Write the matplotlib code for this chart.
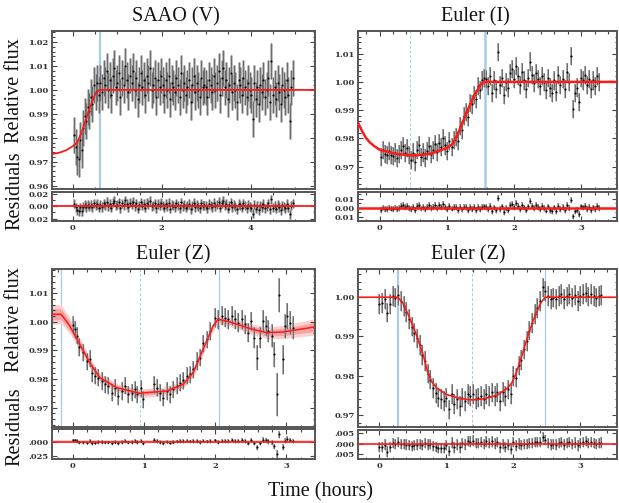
import numpy as np
import matplotlib
matplotlib.use("Agg")
import matplotlib.pyplot as plt
from matplotlib.ticker import MultipleLocator

plt.rcParams['font.family'] = ['Liberation Serif', 'DejaVu Serif']

# ---------------- SAAO (V) ----------------
saao_t = [0.02, 0.06, 0.09, 0.13, 0.16, 0.20, 0.23, 0.27, 0.30, 0.34, 0.37, 0.41, 0.44, 0.48, 0.51, 0.55, 0.58,
          0.62, 0.65, 0.69, 0.72, 0.76, 0.79, 0.83, 0.86, 0.90, 0.93, 0.97, 1.00, 1.04, 1.07, 1.11, 1.14, 1.18, 1.21,
          1.25, 1.28, 1.32, 1.35, 1.39, 1.42, 1.46, 1.49, 1.53, 1.56, 1.60, 1.63, 1.67, 1.70, 1.74, 1.77, 1.81, 1.84,
          1.88, 1.91, 1.95, 1.98,
          2.02, 2.05, 2.09, 2.12, 2.16, 2.19, 2.23, 2.26, 2.30, 2.33, 2.37, 2.40, 2.44, 2.47, 2.51, 2.54, 2.58, 2.61,
          2.65, 2.68, 2.72, 2.75, 2.79, 2.82, 2.86, 2.89, 2.93, 2.96,
          3.00, 3.03, 3.07, 3.10, 3.14, 3.17, 3.21, 3.24, 3.28, 3.31, 3.35, 3.38, 3.42, 3.45, 3.49, 3.52, 3.56, 3.59,
          3.63, 3.66, 3.70, 3.73, 3.77, 3.80, 3.84, 3.87, 3.91, 3.94, 3.98,
          4.01, 4.05, 4.08, 4.12, 4.15, 4.19, 4.22, 4.26, 4.29, 4.33, 4.36, 4.40, 4.43, 4.47, 4.50, 4.54, 4.57, 4.61,
          4.64, 4.68, 4.71, 4.75, 4.78, 4.82, 4.85, 4.89, 4.92, 4.95]
# (flux - 1) in parts per thousand
saao_ppt = [-19, -24, -28, -29, -21, -25, -16, -11, -13, -7, -9, -3, -6, 2, -1, 3, -2,
            3, -1, 5, 2, 8, 0, 4, -2, 6, 9, 1, 3, 7, -3, 5, 2, 10, 4, -1, 6, 3, 8, 0, 5, -4, 2, 7, 1, 4, -2,
            6, 3, 9, 0, 2, 5, -3, 4, 1, 6,
            2, -2, 4, 0, 6, -4, 3, 1, -1, 5, 2, -3, 7, 0, 3, -2, 1, 4, -5, 2, 6, -1, 3, 0, -3, 5, 1, 2,
            1, -3, 4, 2, -1, 6, 0, 3, 8, -2, 5, 9, 1, 4, -4, 2, 7, -1, 3, 0, -5, 4, 2, -2, 5, 1, -3, 3, 0,
            -2, -12, 3, -4, 1, -6, 2, -1, 4, -3, 0, 5, -5, 12, -2, 1, -4, 3, -1, -6, 2, 0, -3, 4, -2, -13, 1, 5]
saao_err = 0.0075
saao_model_t = [-0.47, -0.30, -0.15, 0.00, 0.10, 0.20, 0.30, 0.40, 0.50, 0.58, 0.62, 5.45]
saao_model_f = [0.9732, 0.9738, 0.9748, 0.9765, 0.9780, 0.9825, 0.9880, 0.9935, 0.9980, 0.9998, 1.0, 1.0]

# ---------------- Euler (I) ----------------
euli_t = [0.02, 0.05, 0.08, 0.11, 0.14, 0.17, 0.20, 0.23, 0.26, 0.29, 0.32, 0.35, 0.38, 0.41, 0.44, 0.47, 0.50,
          0.53, 0.56, 0.59, 0.62, 0.65, 0.68, 0.71, 0.74, 0.77, 0.80, 0.83, 0.86, 0.89, 0.92, 0.95, 0.98,
          1.01, 1.04, 1.07, 1.10, 1.13, 1.16, 1.19, 1.22, 1.25, 1.28, 1.31, 1.34, 1.37, 1.40, 1.43, 1.46, 1.49,
          1.52, 1.55,
          1.58, 1.61, 1.64, 1.67, 1.70, 1.73, 1.76, 1.79, 1.82, 1.85, 1.88, 1.91, 1.94, 1.97,
          2.00, 2.03, 2.06, 2.09, 2.12, 2.15, 2.18, 2.21, 2.24, 2.27, 2.30, 2.33, 2.36, 2.39, 2.42, 2.45, 2.48,
          2.51, 2.54, 2.57, 2.60, 2.63, 2.66, 2.69, 2.72, 2.75, 2.78, 2.81, 2.84, 2.87, 2.90, 2.93, 2.96, 2.99,
          3.02, 3.05, 3.08, 3.11, 3.14, 3.17, 3.20, 3.23, 3.26]
euli_ppt = [-26.5, -24.0, -25.5, -26.0, -24.5, -25.8, -26.3, -25.0, -27.0, -25.5, -24.0, -22.8, -25.2, -23.5,
            -26.0, -27.5, -25.0, -28.5, -24.0, -22.5, -26.5, -25.0, -27.0, -24.5, -22.8, -25.5, -24.0, -22.0,
            -24.8, -21.5, -23.0, -19.8, -22.5,
            -24.5, -21.0, -23.0, -20.5, -19.5, -21.0, -15.5, -17.0, -12.0, -10.5, -12.5, -7.5, -8.0, -4.5, -6.0,
            -1.5, -3.0, 0.5, 1.5,
            1.0, -1.5, 2.0, -4.0, 0.5, -2.5, 10.7, -1.0, 1.5, -4.5, 0.0, -2.0, 3.0, 4.5,
            1.0, 5.5, 2.0, -1.0, 3.5, 0.5, -2.5, 1.5, 7.2, 2.5, -0.5, 3.0, 1.0, -1.5, 2.0, 0.0, -3.0, 1.5, -2.0,
            -4.0, 0.5, -3.5, 2.5, -1.0, 1.0, -2.5, 3.5, 0.0, 9.0, -9.5, -4.0, -2.0, -7.1, 1.5,
            0.5, 2.5, -1.0, 1.0, -2.5, 0.5, -1.5, 2.0, 0.0]
euli_err = 0.0032
euli_model_t = [-0.32, -0.26, -0.20, -0.14, -0.08, 0.00, 0.25, 0.50, 0.75, 1.00, 1.10, 1.20, 1.30, 1.40, 1.50,
                1.55, 3.53]
euli_model_f = [0.9856, 0.9826, 0.9801, 0.9785, 0.9773, 0.9760, 0.9745, 0.9739, 0.9745, 0.9766, 0.9783, 0.9836,
                0.9895, 0.9948, 0.9989, 1.0, 1.0]

# ---------------- Euler (Z), first night ----------------
eulz1_t = [0.000, 0.033, 0.065, 0.093, 0.140, 0.196, 0.243, 0.266, 0.313, 0.360, 0.407, 0.453, 0.500, 0.547,
           0.594, 0.640, 0.687, 0.734, 0.781, 0.827, 0.874, 0.907, 0.954, 0.991,
           1.141, 1.187, 1.225, 1.271, 1.318, 1.365, 1.412, 1.459, 1.505, 1.552, 1.599, 1.646, 1.692, 1.739,
           1.786, 1.833, 1.879, 1.926,
           1.996, 2.043, 2.090, 2.136, 2.183, 2.230, 2.277, 2.323, 2.370, 2.417, 2.464, 2.496, 2.543, 2.580,
           2.627, 2.674, 2.711, 2.744, 2.791, 2.824, 2.871, 2.899, 2.955, 2.978, 3.011, 3.048, 3.085]
eulz1_f = [0.9990, 0.9974, 0.9951, 0.9912, 0.9893, 0.9862, 0.9871, 0.9820, 0.9812, 0.9805, 0.9793, 0.9781,
           0.9776, 0.9752, 0.9770, 0.9740, 0.9758, 0.9776, 0.9746, 0.9752, 0.9764, 0.9746, 0.9768, 0.9729,
           0.9781, 0.9770, 0.9752, 0.9735, 0.9758, 0.9746, 0.9764, 0.9776, 0.9787, 0.9795, 0.9812, 0.9816,
           0.9834, 0.9863, 0.9875, 0.9925, 0.9939, 0.9968,
           1.0015, 1.0009, 1.0021, 1.0015, 1.0009, 1.0021, 1.0009, 0.9997, 1.0009, 0.9991, 0.9962, 1.0003,
           0.9945, 0.9875, 0.9945, 1.0003, 0.9985, 0.9968, 0.9951, 0.9886, 0.9747, 1.0093, 0.9869, 0.9985,
           1.0021, 0.9997, 0.9980]
eulz1_err = [0.003] * 42 + [0.0033] * 12 + [0.0038, 0.0045, 0.0038, 0.004, 0.0035, 0.0038, 0.004, 0.0045,
                                            0.0075, 0.006, 0.005, 0.0042, 0.0045, 0.004, 0.004]
eulz1_model_t = [-0.29, -0.16, -0.04, 0.10, 0.24, 0.38, 0.62, 0.94, 1.32, 1.55, 1.69, 1.83, 1.97, 2.04, 2.21,
                 2.49, 2.72, 2.95, 3.19, 3.42]
eulz1_model_f = [1.00265, 1.00265, 0.99856, 0.99215, 0.98572, 0.98047, 0.97697, 0.97500, 0.97580, 0.97816,
                 0.98222, 0.99040, 0.99856, 1.00090, 0.99996, 0.99762, 0.99622, 0.99646, 0.99740, 0.99832]
eulz1_band_outer = [0.0035, 0.0033, 0.0028, 0.0022, 0.0018, 0.0016, 0.0015, 0.0015, 0.0015, 0.0015, 0.0016,
                    0.0017, 0.0017, 0.0016, 0.0016, 0.0018, 0.0020, 0.0023, 0.0026, 0.0029]
eulz1_band_inner = [0.0020, 0.0019, 0.0016, 0.0012, 0.0010, 0.0009, 0.0008, 0.0008, 0.0008, 0.0008, 0.0009,
                    0.0009, 0.0009, 0.0009, 0.0009, 0.0010, 0.0011, 0.0013, 0.0014, 0.0016]

# ---------------- Euler (Z), second night ----------------
eulz2_t = [0.00, 0.04, 0.08, 0.12, 0.16, 0.20, 0.24, 0.28, 0.32, 0.36, 0.40, 0.44, 0.48, 0.52, 0.56, 0.60,
           0.64, 0.68, 0.72, 0.76, 0.80, 0.84, 0.88, 0.92, 0.96,
           1.00, 1.04, 1.08, 1.12, 1.16, 1.20, 1.24, 1.28, 1.32, 1.36, 1.40, 1.44, 1.48, 1.52, 1.56, 1.60,
           1.64, 1.68, 1.72, 1.76, 1.80, 1.84, 1.88, 1.92, 1.96,
           2.00, 2.04, 2.08, 2.12, 2.16, 2.20, 2.24, 2.28, 2.32, 2.36, 2.40, 2.44, 2.48, 2.52, 2.56, 2.60,
           2.64, 2.68, 2.72, 2.76, 2.80, 2.84, 2.88, 2.92, 2.96,
           3.00, 3.04, 3.08, 3.12, 3.16, 3.20, 3.24, 3.28, 3.31]
eulz2_f = [0.9982, 0.9985, 0.9995, 0.9961, 0.9982, 1.0003, 0.9999, 1.0005, 0.9990, 0.9978, 0.9962, 0.9945,
           0.9925, 0.9910, 0.9895, 0.9878, 0.9852, 0.9838, 0.9805, 0.9790, 0.9768, 0.9755, 0.9744, 0.9740,
           0.9736,
           0.9744, 0.9714, 0.9753, 0.9727, 0.9740, 0.9723, 0.9744, 0.9736, 0.9753, 0.9748, 0.9753, 0.9740,
           0.9744, 0.9748, 0.9740, 0.9753, 0.9748, 0.9757, 0.9748, 0.9757, 0.9736, 0.9758, 0.9748, 0.9765,
           0.9753,
           0.9799, 0.9795, 0.9826, 0.9840, 0.9867, 0.9889, 0.9915, 0.9935, 0.9957, 0.9972, 0.9990, 1.0025,
           1.0016, 1.0003, 0.9995, 0.9999, 0.9995, 1.0003, 1.0008, 0.9995, 1.0002, 1.0008, 0.9999, 1.0005,
           0.9991,
           1.0003, 1.0008, 1.0012, 1.0002, 1.0008, 1.0003, 0.9999, 1.0003, 1.0005]
eulz2_err = 0.0025
eulz2_model_t = [-0.32, 0.275, 0.35, 0.45, 0.55, 0.65, 0.72, 0.78, 0.86, 1.00, 1.20, 1.385, 1.56, 1.76, 1.91,
                 1.98, 2.04, 2.13, 2.23, 2.33, 2.42, 2.48, 3.55]
eulz2_model_f = [1.0, 1.0, 0.9985, 0.9948, 0.9905, 0.9855, 0.9810, 0.9785, 0.9768, 0.9752, 0.9742, 0.9738,
                 0.9741, 0.9750, 0.9768, 0.9782, 0.9805, 0.9852, 0.9908, 0.9955, 0.9988, 1.0, 1.0]

titles = ['SAAO (V)', 'Euler (I)', 'Euler (Z)', 'Euler (Z)']

# ---------------- figure ----------------
W, H = 619, 503
fig = plt.figure(figsize=(W / 100, H / 100), dpi=100)


def px_axes(x0, x1, y0, y1):
    return fig.add_axes([x0 / W, 1 - y1 / H, (x1 - x0) / W, (y1 - y0) / H])


tick_font = dict(fontfamily='DejaVu Serif', fontweight='bold', fontsize=6, color='#333333')


def style(a, xminor, yminor):
    for s in a.spines.values():
        s.set_color('#555555')
        s.set_linewidth(1.4)
    a.tick_params(which='both', direction='in', top=True, right=True, color='#444444', width=0.8, pad=2.5)
    a.tick_params(which='major', length=3.5)
    a.tick_params(which='minor', length=1.8)
    if xminor:
        a.xaxis.set_minor_locator(MultipleLocator(xminor))
    if yminor:
        a.yaxis.set_minor_locator(MultipleLocator(yminor))


def panel(box, t, f, err, mt, mf, lw, xlim, ylim, rlim, xticks, yticks, rticks, rlabels,
          vsolid, vdash, xminor, yminor, rminor, band=None, barw=1.5):
    x0, x1, y0, y1, r0, r1 = box
    ax = px_axes(x0, x1, y0, y1)
    axr = px_axes(x0, x1, r0, r1)
    t = np.asarray(t)
    f = np.asarray(f)
    res = f - np.interp(t, mt, mf)
    for a, y in ((ax, f), (axr, res)):
        a.errorbar(t, y, yerr=err, fmt='none', ecolor='#aaaaaa', elinewidth=barw, capsize=0, zorder=2)
        a.errorbar(t, y, yerr=err, fmt='none', ecolor='#4a4a4a', elinewidth=0.45, capsize=0, zorder=3)
        a.plot(t, y, 'o', ms=1.5, color='black', mec='none', zorder=4)
    if band is not None:
        outer, inner = np.asarray(band[0]), np.asarray(band[1])
        mfa = np.asarray(mf)
        ax.fill_between(mt, mfa - outer, mfa + outer, color='#fbd0d0', lw=0, zorder=1)
        ax.fill_between(mt, mfa - inner, mfa + inner, color='#f6a3a3', lw=0, zorder=1)
        axr.axhspan(-0.003, 0.003, color='#fbd0d0', lw=0, zorder=1)
        axr.axhspan(-0.0015, 0.0015, color='#f6a3a3', lw=0, zorder=1)
    ax.plot(mt, mf, color='#ff1a1a', lw=lw, zorder=5)
    axr.axhline(0, color='#ff1a1a', lw=lw, zorder=5)
    for xv, w in vsolid:
        ax.axvline(xv, color='#a9cbe3', lw=w, zorder=0.5)
    for xv in vdash:
        ax.axvline(xv, color='#a9cbe3', lw=0.7, ls=(0, (3, 2)), zorder=0.5)

    ax.set_xlim(xlim)
    axr.set_xlim(xlim)
    ax.set_ylim(ylim)
    axr.set_ylim(rlim)
    ax.set_xticks(xticks, [''] * len(xticks))
    axr.set_xticks(xticks, [str(v) for v in xticks], **tick_font)
    ax.set_yticks(yticks, ['%.2f' % v for v in yticks], **tick_font)
    axr.set_yticks(rticks, rlabels, **tick_font)
    style(ax, xminor, yminor)
    style(axr, xminor, rminor)
    return ax, axr


panel((52, 315, 31, 189, 192, 221), saao_t, 1 + np.array(saao_ppt) / 1000, saao_err,
      saao_model_t, saao_model_f, 1.3, (-0.47, 5.45), (0.9586, 1.0246), (-0.024, 0.0237),
      [0, 2, 4], [0.96, 0.97, 0.98, 0.99, 1.00, 1.01, 1.02], [-0.02, 0.0, 0.02], ['0.02', '0.00', '0.02'],
      [(0.61, 1.6)], [], 0.5, 0.002, 0.01, barw=1.8)

panel((358, 617, 31, 189, 192, 221), euli_t, 1 + np.array(euli_ppt) / 1000, euli_err,
      euli_model_t, euli_model_f, 1.8, (-0.32, 3.53), (0.9621, 1.018), (-0.0145, 0.0175),
      [0, 1, 2, 3], [0.97, 0.98, 0.99, 1.00, 1.01], [-0.01, 0.0, 0.01], ['0.01', '0.00', '0.01'],
      [(1.57, 1.8)], [0.456], 0.2, 0.002, 0.005)

panel((52, 315, 269, 427, 429, 459), eulz1_t, eulz1_f, eulz1_err,
      eulz1_model_t, eulz1_model_f, 1.1, (-0.29, 3.40), (0.9632, 1.0185), (-0.030, 0.022),
      [0, 1, 2, 3], [0.97, 0.98, 0.99, 1.00, 1.01], [-0.025, 0.0], ['.025', '.000'],
      [(-0.164, 0.9), (2.05, 0.9)], [0.948], 0.2, 0.002, None,
      band=(eulz1_band_outer, eulz1_band_inner))

panel((358, 617, 269, 427, 430, 459), eulz2_t, eulz2_f, eulz2_err,
      eulz2_model_t, eulz2_model_f, 1.2, (-0.32, 3.55), (0.9669, 1.0072), (-0.0075, 0.0066),
      [0, 1, 2, 3], [0.97, 0.98, 0.99, 1.00], [-0.005, 0.0, 0.005], ['.005', '.000', '.005'],
      [(0.275, 1.6), (2.48, 0.9)], [1.38], 0.2, 0.002, None)

big = dict(fontsize=14.5, ha='center', va='center', color='#111111')
fig.text(176 / W, 1 - 17 / H, titles[0], **big)
fig.text(475 / W, 1 - 17 / H, titles[1], **big)
fig.text(173 / W, 1 - 255 / H, titles[2], **big)
fig.text(468 / W, 1 - 255 / H, titles[3], **big)
fig.text(15 / W, 1 - 91 / H, 'Relative flux', rotation=90, **big)
fig.text(15 / W, 1 - 191 / H, 'Residuals', rotation=90, **big)
fig.text(15 / W, 1 - 320 / H, 'Relative flux', rotation=90, **big)
fig.text(15 / W, 1 - 427 / H, 'Residuals', rotation=90, **big)
fig.text(320 / W, 1 - 492 / H, 'Time (hours)', **big)

plt.savefig('out.png', dpi=100)
